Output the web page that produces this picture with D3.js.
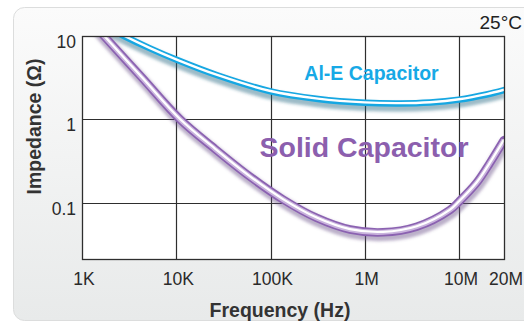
<!DOCTYPE html>
<html>
<head>
<meta charset="utf-8">
<script src="https://cdn.jsdelivr.net/npm/d3@7/dist/d3.min.js"></script>
<style>
  html, body { margin: 0; padding: 0; background: #ffffff; }
  svg { display: block; }
  text { font-family: "Liberation Sans", Arial, Helvetica, sans-serif; }
</style>
</head>
<body>
<svg id="chart" width="524" height="322"></svg>
<script>
// Axis ticks
const freqTicks = [1e3, 1e4, 1e5, 1e6, 1e7, 2e7];
const freqTickLabels = ["1K", "10K", "100K", "1M", "10M", "20M"];
const impTicks = [10, 1, 0.1];
const impTickLabels = ["10", "1", "0.1"];

// Aluminium electrolytic capacitor: frequency (Hz) and impedance (ohm)
const alFreq = [1000, 2790, 5270, 10110, 27730, 100000, 319000, 1000000, 2370000, 4920000, 10000000, 15300000, 20000000];
const alImp  = [18.4, 10, 7.11, 5.18, 3.36, 2.17, 1.76, 1.586, 1.555, 1.595, 1.727, 1.99, 2.25];

// Solid (polymer) capacitor: frequency (Hz) and impedance (ohm)
const solidFreq = [1000, 1710, 4330, 10960, 25760, 60600, 135700, 309000, 697500, 1562000, 3556000, 8030000, 10000000, 13100000, 16100000, 20000000];
const solidImp  = [19.4, 10, 3.16, 1.0, 0.442, 0.2056, 0.1095, 0.0658, 0.0478, 0.0443, 0.0517, 0.082, 0.103, 0.173, 0.30, 0.566];

const svg = d3.select("#chart");
const defs = svg.append("defs");

// Frequency axis: log decades from 1K to 10M, last segment compressed up to 20M
const x = d3.scaleLog().domain([1e3, 1e7, 2e7]).range([82, 459, 504]);
const y = d3.scaleLog().domain([0.021, 10]).range([259.3, 36]);

const pLeft = x(1e3), pRight = x(2e7), pTop = y(10), pBottom = y(0.021);

// Panel background
const grad = defs.append("linearGradient").attr("id", "panelGrad")
  .attr("x1", 0).attr("y1", 0).attr("x2", 0).attr("y2", 1);
grad.append("stop").attr("offset", "0%").attr("stop-color", "#fbfbfb");
grad.append("stop").attr("offset", "100%").attr("stop-color", "#e8eaea");

svg.append("rect")
  .attr("x", 13.5).attr("y", 7.5).attr("width", 540).attr("height", 313)
  .attr("rx", 11).attr("ry", 11)
  .attr("fill", "url(#panelGrad)")
  .attr("stroke", "#dcdddd").attr("stroke-width", 1);

// Plot area
svg.append("rect")
  .attr("x", pLeft).attr("y", pTop)
  .attr("width", pRight - pLeft).attr("height", pBottom - pTop)
  .attr("fill", "#ffffff");

const px = v => Math.round(v) + 0.5;

// Grid lines
const grid = svg.append("g").attr("stroke", "#2e2e2e").attr("stroke-width", 1.2);
freqTicks.slice(1, 5).forEach(f => {
  grid.append("line").attr("x1", px(x(f))).attr("x2", px(x(f)))
    .attr("y1", pTop).attr("y2", pBottom);
});
impTicks.slice(1).forEach(v => {
  grid.append("line").attr("x1", pLeft).attr("x2", pRight)
    .attr("y1", px(y(v))).attr("y2", px(y(v)));
});

// Curves
defs.append("clipPath").attr("id", "plotClip")
  .append("rect").attr("x", pLeft).attr("y", pTop)
  .attr("width", pRight - pLeft).attr("height", pBottom - pTop);

const shadowBlur = defs.append("filter").attr("id", "soft")
  .attr("x", "-10%").attr("y", "-10%").attr("width", "120%").attr("height", "120%");
shadowBlur.append("feGaussianBlur").attr("stdDeviation", 1.8);

const line = d3.line()
  .x(d => x(d[0]))
  .y(d => y(d[1]))
  .curve(d3.curveCatmullRom.alpha(0.5));

const alPts = alFreq.map((f, i) => [f, alImp[i]]);
const solidPts = solidFreq.map((f, i) => [f, solidImp[i]]);

const curves = svg.append("g").attr("clip-path", "url(#plotClip)");

function tube(pts, opt) {
  const d = line(pts);
  curves.append("path").attr("d", d)
    .attr("transform", `translate(${opt.shadowDx},${opt.shadowDy})`)
    .attr("fill", "none").attr("stroke", opt.shadow)
    .attr("stroke-width", opt.width + 3).attr("filter", "url(#soft)");
  curves.append("path").attr("d", d)
    .attr("fill", "none").attr("stroke", opt.color)
    .attr("stroke-width", opt.width).attr("stroke-linecap", "round");
  if (opt.mid) {
    curves.append("path").attr("d", d)
      .attr("fill", "none").attr("stroke", opt.mid)
      .attr("stroke-width", opt.width * 0.6);
  }
  curves.append("path").attr("d", d)
    .attr("transform", `translate(0,${opt.hiDy})`)
    .attr("fill", "none").attr("stroke", opt.hi)
    .attr("stroke-width", opt.hiWidth);
}

tube(alPts, {
  color: "#16a7e2", hi: "#ffffff", hiWidth: 2.4, hiDy: -0.3, width: 6.5,
  shadow: "rgba(40,105,130,0.45)", shadowDx: 0, shadowDy: 3.5
});
tube(solidPts, {
  color: "#8b62b1", mid: "#c9b3dd", hi: "#ffffff", hiWidth: 2.2, hiDy: -0.4, width: 8.5,
  shadow: "rgba(105,80,135,0.45)", shadowDx: 1, shadowDy: 3
});

// Plot border
svg.append("rect")
  .attr("x", px(pLeft)).attr("y", px(pTop))
  .attr("width", Math.round(pRight) - Math.round(pLeft))
  .attr("height", Math.round(pBottom) - Math.round(pTop))
  .attr("fill", "none").attr("stroke", "#2e2e2e").attr("stroke-width", 1.3);

// Tick labels
const tickColor = "#2a2a2a";
svg.append("g").selectAll("text").data(freqTicks).join("text")
  .attr("x", d => x(d) + 2).attr("y", 285)
  .attr("text-anchor", "middle")
  .attr("font-size", 17.5).attr("fill", tickColor)
  .text((d, i) => freqTickLabels[i]);

svg.append("g").selectAll("text").data(impTicks).join("text")
  .attr("x", 76).attr("y", d => y(d) + 12)
  .attr("text-anchor", "end")
  .attr("font-size", 17.5).attr("fill", tickColor)
  .text((d, i) => impTickLabels[i]);

// Axis titles
svg.append("text")
  .attr("x", 280).attr("y", 316.5)
  .attr("text-anchor", "middle")
  .attr("font-size", 19.5).attr("font-weight", "bold").attr("fill", "#333333")
  .text("Frequency (Hz)");

svg.append("text")
  .attr("transform", "translate(40.5,126.5) rotate(-90)")
  .attr("text-anchor", "middle")
  .attr("font-size", 19.5).attr("font-weight", "bold").attr("fill", "#333333")
  .text("Impedance (Ω)");

// Temperature note
svg.append("text")
  .attr("x", 522).attr("y", 28.5)
  .attr("text-anchor", "end")
  .attr("font-size", 19).attr("fill", "#222222")
  .text("25°C");

// Series labels
svg.append("text")
  .attr("x", 371.5).attr("y", 79.5)
  .attr("text-anchor", "middle")
  .attr("font-size", 19.5).attr("font-weight", "bold").attr("fill", "#17a9e6")
  .text("Al-E Capacitor");

svg.append("text")
  .attr("x", 364).attr("y", 157)
  .attr("text-anchor", "middle")
  .attr("font-size", 28.5).attr("font-weight", "bold").attr("fill", "#8c5fae")
  .text("Solid Capacitor");
</script>
</body>
</html>
